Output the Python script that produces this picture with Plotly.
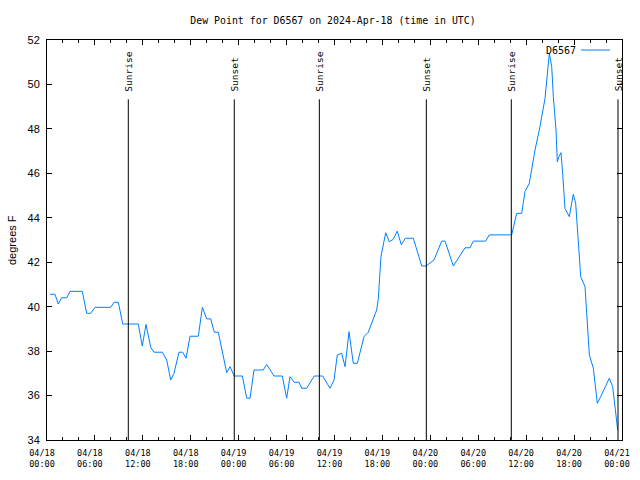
import pandas as pd
import plotly.graph_objects as go

# ---------------- data ----------------
start = "2024-04-18 00:00"
hours_from_start = [0.38, 1.0, 1.41, 1.84, 2.47, 2.88, 4.42, 4.97, 5.47, 6.01, 7.98, 8.39, 8.93, 9.48,
                    11.43, 11.93, 12.40, 12.99, 13.40, 14.44, 14.99, 15.49, 15.90, 16.53, 16.99, 17.41,
                    17.91, 18.95, 19.45, 20.0, 20.50, 20.95, 21.45, 22.50, 22.92, 23.45, 24.46, 25.01,
                    25.42, 25.92, 27.08, 27.51, 28.42, 29.46, 30.01, 30.43, 30.93, 31.56, 31.89, 32.52,
                    33.47, 34.52, 35.44, 35.94, 36.35, 36.90, 37.32, 37.82, 38.35, 38.86, 39.69, 40.23,
                    41.28, 41.48, 41.82, 42.41, 42.86, 43.36, 43.86, 44.37, 44.87, 45.87, 46.92, 47.46,
                    48.46, 49.42, 49.84, 50.88, 52.34, 52.97, 53.38, 54.93, 55.38, 58.19, 58.81, 59.44,
                    59.85, 60.39, 61.11, 61.73, 62.36, 62.77, 62.90, 63.20, 63.40, 63.74, 63.90, 64.11,
                    64.36, 64.57, 64.86, 65.40, 65.70, 65.90, 66.20, 66.53, 66.83, 67.37, 67.58, 67.91,
                    68.41, 68.91, 69.33, 70.41, 70.83, 71.12, 71.34, 71.46]
dewpoint_f = [40.56, 40.56, 40.12, 40.4, 40.4, 40.69, 40.69, 39.7, 39.7, 39.97, 39.97, 40.2, 40.2, 39.22,
              39.22, 38.23, 39.2, 38.17, 37.95, 37.95, 37.6, 36.7, 37.0, 37.95, 37.95, 37.68,
              38.67, 38.67, 39.97, 39.45, 39.45, 38.85, 38.85, 37.03, 37.3, 36.88, 36.88, 35.88,
              35.88, 37.15, 37.15, 37.4, 36.88, 36.88, 35.88, 36.85, 36.6, 36.6, 36.33, 36.33,
              36.88, 36.88, 36.33, 36.7, 37.83, 37.9, 37.3, 38.87, 37.45, 37.45, 38.65, 38.85,
              39.85, 40.33, 42.25, 43.33, 42.92, 43.03, 43.4, 42.78, 43.08, 43.08, 41.83, 41.83,
              42.1, 42.95, 42.95, 41.83, 42.65, 42.65, 42.95, 42.95, 43.23, 43.23, 44.2, 44.2,
              45.18, 45.55, 47.05, 48.1, 49.37, 51.1, 51.4, 50.8, 49.45, 47.95, 46.52, 46.75,
              46.93, 46.0, 44.43, 44.05, 44.65, 45.06, 44.65, 43.0, 41.35, 40.9, 39.7, 37.83,
              37.23, 35.65, 35.95, 36.78, 36.4, 35.57, 35.05, 34.45]
series_name = "D6567"

event_hours = [10.18, 23.45, 34.1, 47.5, 58.14, 71.5]
event_labels = ["Sunrise", "Sunset", "Sunrise", "Sunset", "Sunrise", "Sunset"]

tick_times = ["2024-04-18 00:00", "2024-04-18 06:00", "2024-04-18 12:00", "2024-04-18 18:00",
              "2024-04-19 00:00", "2024-04-19 06:00", "2024-04-19 12:00", "2024-04-19 18:00",
              "2024-04-20 00:00", "2024-04-20 06:00", "2024-04-20 12:00", "2024-04-20 18:00",
              "2024-04-21 00:00"]
tick_dates = ["04/18", "04/18", "04/18", "04/18", "04/19", "04/19", "04/19", "04/19",
              "04/20", "04/20", "04/20", "04/20", "04/21"]
tick_clock = ["00:00", "06:00", "12:00", "18:00", "00:00", "06:00", "12:00", "18:00",
              "00:00", "06:00", "12:00", "18:00", "00:00"]
y_ticks = [34, 36, 38, 40, 42, 44, 46, 48, 50, 52]

title_text = "Dew Point for D6567 on 2024-Apr-18 (time in UTC)"
y_title = "degrees F"

# ---------------- figure ----------------
base = pd.Timestamp(start)
times = [base + pd.Timedelta(hours=h) for h in hours_from_start]
event_times = [base + pd.Timedelta(hours=h) for h in event_hours]

MONO = "DejaVu Sans Mono"
SANS = "Liberation Sans"

fig = go.Figure()
fig.add_trace(go.Scatter(x=times, y=dewpoint_f, mode="lines", name=series_name,
                         line=dict(color="#0080ff", width=1), showlegend=False))

for t, lab in zip(event_times, event_labels):
    fig.add_shape(type="line", xref="x", yref="y", x0=t, x1=t, y0=34, y1=49.33,
                  line=dict(color="black", width=1))
    fig.add_annotation(x=t, y=49.6, xref="x", yref="y", text=lab, textangle=-90,
                       showarrow=False, xanchor="center", yanchor="bottom",
                       font=dict(family=MONO, size=9.5, color="black"))

# legend (gnuplot style: text then line sample)
fig.add_annotation(x=(578 - 47) / 575, y=(440 - 50.5) / 400, xref="paper", yref="paper",
                   text=series_name, showarrow=False, xanchor="right", yanchor="middle",
                   font=dict(family=MONO, size=10, color="black"))
fig.add_shape(type="line", xref="paper", yref="paper",
              x0=(581 - 47) / 575, x1=(610 - 47) / 575, y0=(440 - 50) / 400, y1=(440 - 50) / 400,
              line=dict(color="#0080ff", width=1))

# y axis title
fig.add_annotation(x=(12 - 47) / 575, y=0.5, xref="paper", yref="paper", text=y_title,
                   textangle=-90, showarrow=False, xanchor="center", yanchor="middle",
                   font=dict(family=SANS, size=11, color="black"))

fig.update_layout(
    width=640, height=480,
    margin=dict(l=47, r=18, t=40, b=40),
    paper_bgcolor="white", plot_bgcolor="white",
    title=dict(text=title_text, x=333 / 640, xanchor="center", y=1 - 21 / 480, yanchor="middle",
               font=dict(family=MONO, size=9.9, color="black")),
    showlegend=False,
)
fig.update_xaxes(
    type="date", range=[tick_times[0], tick_times[-1]],
    tickmode="array", tickvals=tick_times,
    ticktext=[d + "<br>" + c for d, c in zip(tick_dates, tick_clock)],
    tickfont=dict(family=MONO, size=8.5, color="black"),
    ticks="inside", ticklen=5, tickcolor="black", tickwidth=1,
    minor=dict(ticks="inside", ticklen=3, dtick=2 * 3600 * 1000, tickcolor="black", tickwidth=1,
               showgrid=False),
    showline=True, linecolor="black", linewidth=1, mirror="allticks",
    showgrid=False, zeroline=False, ticklabelshift=-5, ticklabelstandoff=5, automargin=False,
)
fig.update_yaxes(
    range=[34, 52], tickmode="array", tickvals=y_ticks, ticktext=[str(v) for v in y_ticks],
    tickfont=dict(family=SANS, size=11, color="black"),
    ticks="inside", ticklen=5, tickcolor="black", tickwidth=1,
    showline=True, linecolor="black", linewidth=1, mirror="allticks",
    showgrid=False, zeroline=False, ticklabelstandoff=4, automargin=False,
)

fig.write_html("out.html")
